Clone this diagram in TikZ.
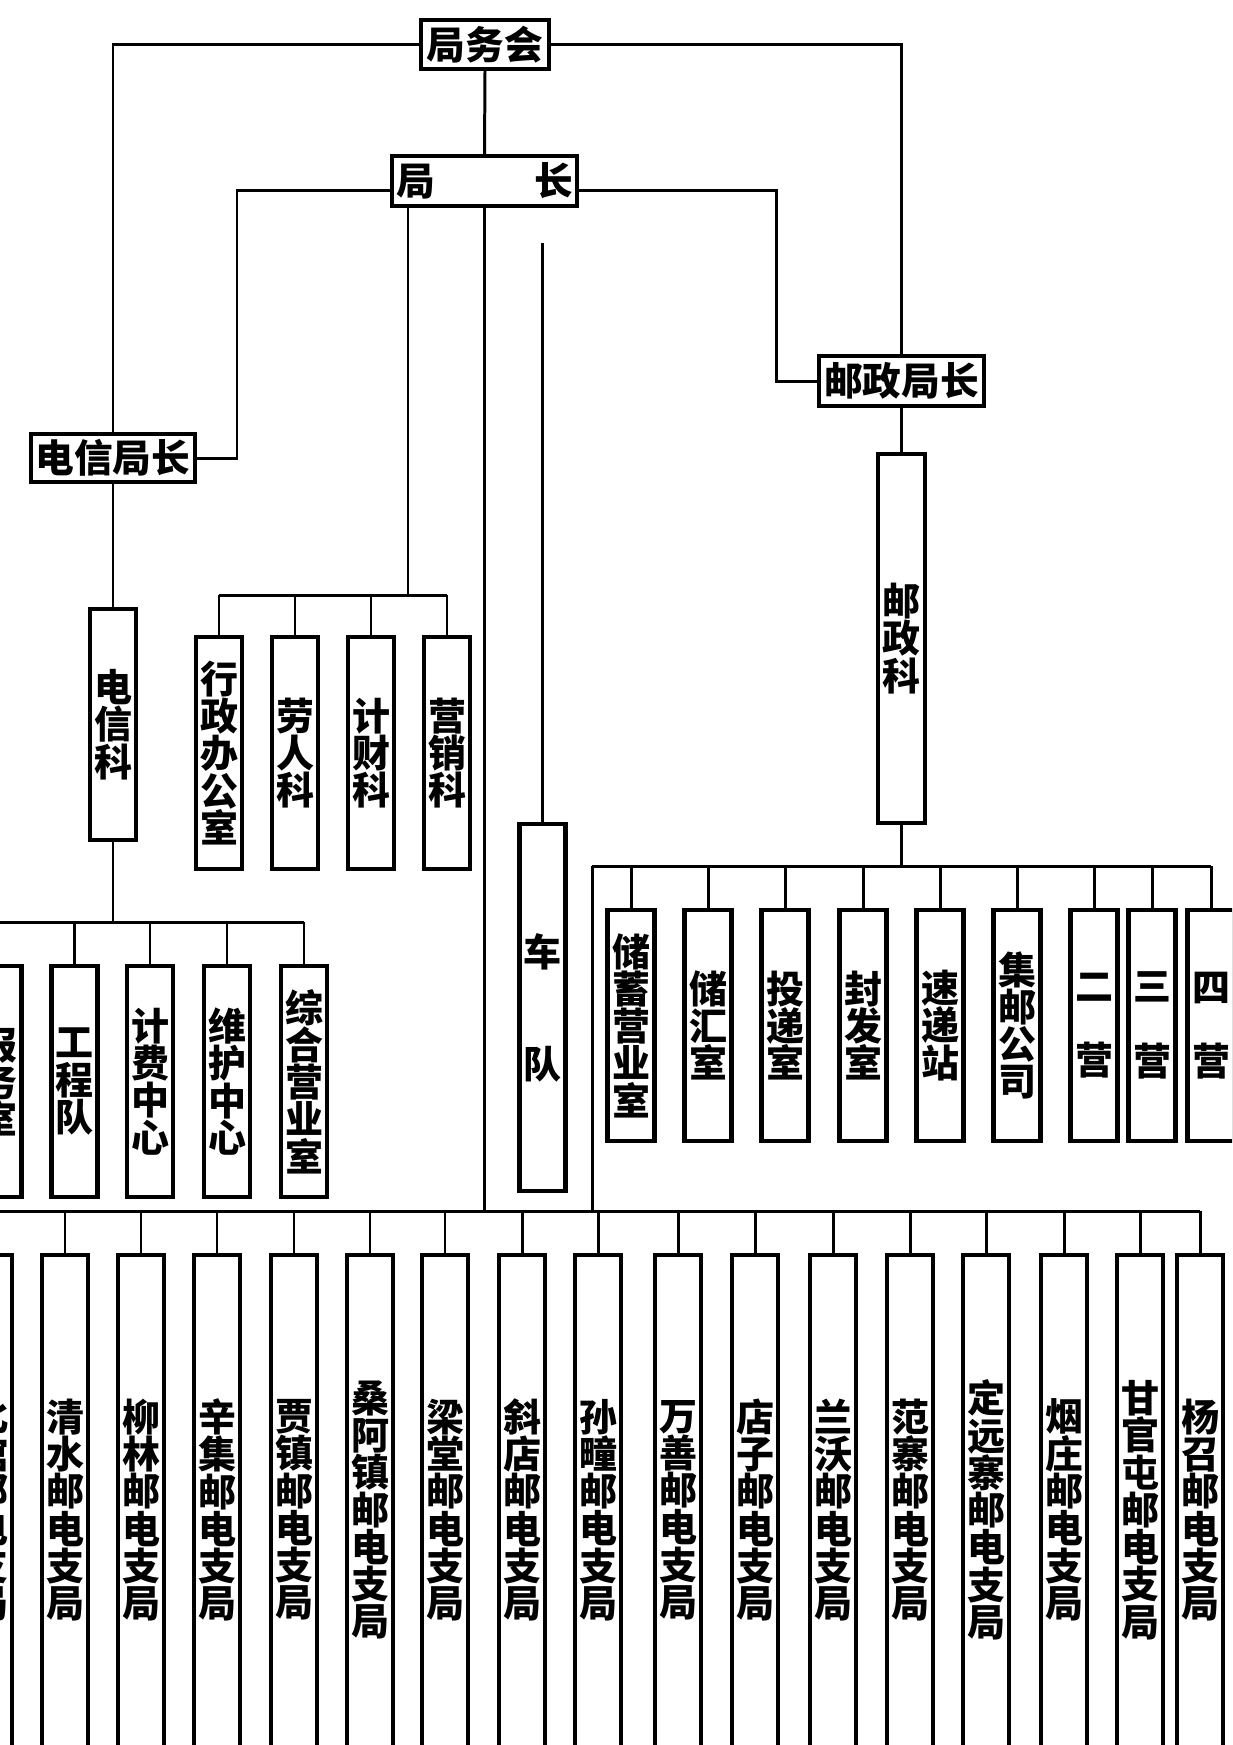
\documentclass[tikz,border=0pt]{standalone}
\usepackage{fontspec}
\newfontfamily\cjk{Noto Sans CJK SC}
\newcommand{\headfont}{\cjk\bfseries\fontsize{11pt}{12pt}\selectfont}
\newcommand{\unitfont}{\cjk\bfseries\fontsize{10.8pt}{10.6pt}\selectfont}
\newcommand{\boxwidth}{1.2pt}
\newcommand{\linkwidth}{0.85pt}
\tikzset{
    hbox/.style={draw, line width=\boxwidth, inner sep=0pt, minimum height=0.49cm, font=\headfont},
    vbox/.style={draw, line width=\boxwidth, inner sep=0pt, minimum width=0.46cm, align=center, font=\unitfont},
    link/.style={line width=\linkwidth},
}

\begin{document}
\begin{tikzpicture}[x=0.01cm, y=-0.01cm]

\useasboundingbox (0,0) rectangle (1232,1745);
\clip (0,0) rectangle (1232,1745);

% heads
\node[hbox, minimum width=1.28cm] (jwh) at (485,44.5) {局务会};
\node[hbox, minimum width=1.85cm, minimum height=0.50cm] (jz) at (484.5,181) {局\hspace{0.99cm}长};
\node[hbox, minimum width=1.64cm, minimum height=0.48cm] (dxjz) at (113,458) {电信局长};
\node[hbox, minimum width=1.65cm, minimum height=0.50cm] (yzjz) at (901.5,381) {邮政局长};

% sections
\node[vbox, minimum height=2.31cm] (dxk) at (113,724.5) {电\\信\\科};
\node[vbox, minimum height=3.69cm, minimum width=0.47cm] (yzk) at (901.5,638.5) {邮\\政\\科};
\node[vbox, minimum height=3.67cm] (cd) at (542.5,1007.5) {车\\~\\~\\队};

\foreach \kx/\kname [count=\i] in {219/{行\\政\\办\\公\\室}, 295/{劳\\人\\科},
        371/{计\\财\\科}, 447/{营\\销\\科}}
    \node[vbox, minimum height=2.32cm] (ks\i) at (\kx,753) {\kname};

\foreach \kx/\kname [count=\i] in {-1.5/{报\\务\\室}, 74.5/{工\\程\\队},
        150/{计\\费\\中\\心}, 227/{维\\护\\中\\心}, 304/{综\\合\\营\\业\\室}}
    \node[vbox, minimum height=2.31cm] (dx\i) at (\kx,1081.5) {\kname};

\foreach \kx/\kname [count=\i] in {631/{储\\蓄\\营\\业\\室}, 708/{储\\汇\\室},
        785/{投\\递\\室}, 863/{封\\发\\室}, 940/{速\\递\\站}, 1017/{集\\邮\\公\\司},
        1094/{二\\~\\营}, 1152/{三\\~\\营}, 1211/{四\\~\\营}}
    \node[vbox, minimum height=2.31cm, minimum width=0.47cm] (yz\i) at (\kx,1025.5) {\kname};

% branch offices
\foreach \kx/\kname [count=\i] in {-11/{北\\馆\\邮\\电\\支\\局},
        65/{清\\水\\邮\\电\\支\\局}, 141/{柳\\林\\邮\\电\\支\\局},
        217/{辛\\集\\邮\\电\\支\\局}, 294/{贾\\镇\\邮\\电\\支\\局},
        370/{桑\\阿\\镇\\邮\\电\\支\\局}, 445/{梁\\堂\\邮\\电\\支\\局},
        522/{斜\\店\\邮\\电\\支\\局}, 598/{孙\\疃\\邮\\电\\支\\局},
        678/{万\\善\\邮\\电\\支\\局}, 755/{店\\子\\邮\\电\\支\\局},
        833/{兰\\沃\\邮\\电\\支\\局}, 910/{范\\寨\\邮\\电\\支\\局},
        986/{定\\远\\寨\\邮\\电\\支\\局}, 1064/{烟\\庄\\邮\\电\\支\\局},
        1140/{甘\\官\\屯\\邮\\电\\支\\局}, 1200/{杨\\召\\邮\\电\\支\\局}}
    \node[vbox, minimum height=5.10cm] (zj\i) at (\kx,1510) {\kname};

% bus and turn coordinates
\coordinate (ksfeed) at (408,0);
\coordinate (ksbus) at (0,595);
\coordinate (dxbus) at (0,922);
\coordinate (yzbus) at (592,866);
\coordinate (zjbus) at (0,1211);
\coordinate (dxturn) at (237,458);
\coordinate (yzturn) at (776,381);
\coordinate (cdfeed) at (542.5,243);

% top links
\draw[link] (jwh.west) -| (dxjz.north);
\draw[link] (jwh.east) -| (yzjz.north);
\draw[link] (jwh.south) -- (jz.north);
\draw[link] ([yshift=-0.09cm]jz.west) -| (dxturn) -- (dxjz.east);
\draw[link] ([yshift=-0.09cm]jz.east) -| (yzturn) -- (yzjz.west);
\draw[link] (dxjz.south) -- (dxk.north);
\draw[link] (yzjz.south) -- (yzk.north);
\draw[link] (cdfeed) -- (cd.north);

% offices under the director
\draw[link] (jz.south -| ksfeed) -- (ksbus -| ksfeed);
\draw[link] (ks1.north |- ksbus) -- (ks4.north |- ksbus);
\foreach \i in {1,...,4}
    \draw[link] (ks\i.north) -- (ks\i.north |- ksbus);

% telecom
\draw[link] (dxk.south) -- (dxk.south |- dxbus);
\draw[link] (dx1.north |- dxbus) -- (dx5.north |- dxbus);
\foreach \i in {1,...,5}
    \draw[link] (dx\i.north) -- (dx\i.north |- dxbus);

% postal
\draw[link] (yzk.south) -- (yzk.south |- yzbus);
\draw[link] (yzbus) -- (yz9.north |- yzbus);
\draw[link] (yzbus) -- (yzbus |- zjbus);
\foreach \i in {1,...,9}
    \draw[link] (yz\i.north) -- (yz\i.north |- yzbus);

% branch offices
\draw[link] (jz.south) -- (jz.south |- zjbus);
\draw[link] (zj1.north |- zjbus) -- (zj17.north |- zjbus);
\foreach \i in {1,...,17}
    \draw[link] (zj\i.north) -- (zj\i.north |- zjbus);

\end{tikzpicture}
\end{document}
